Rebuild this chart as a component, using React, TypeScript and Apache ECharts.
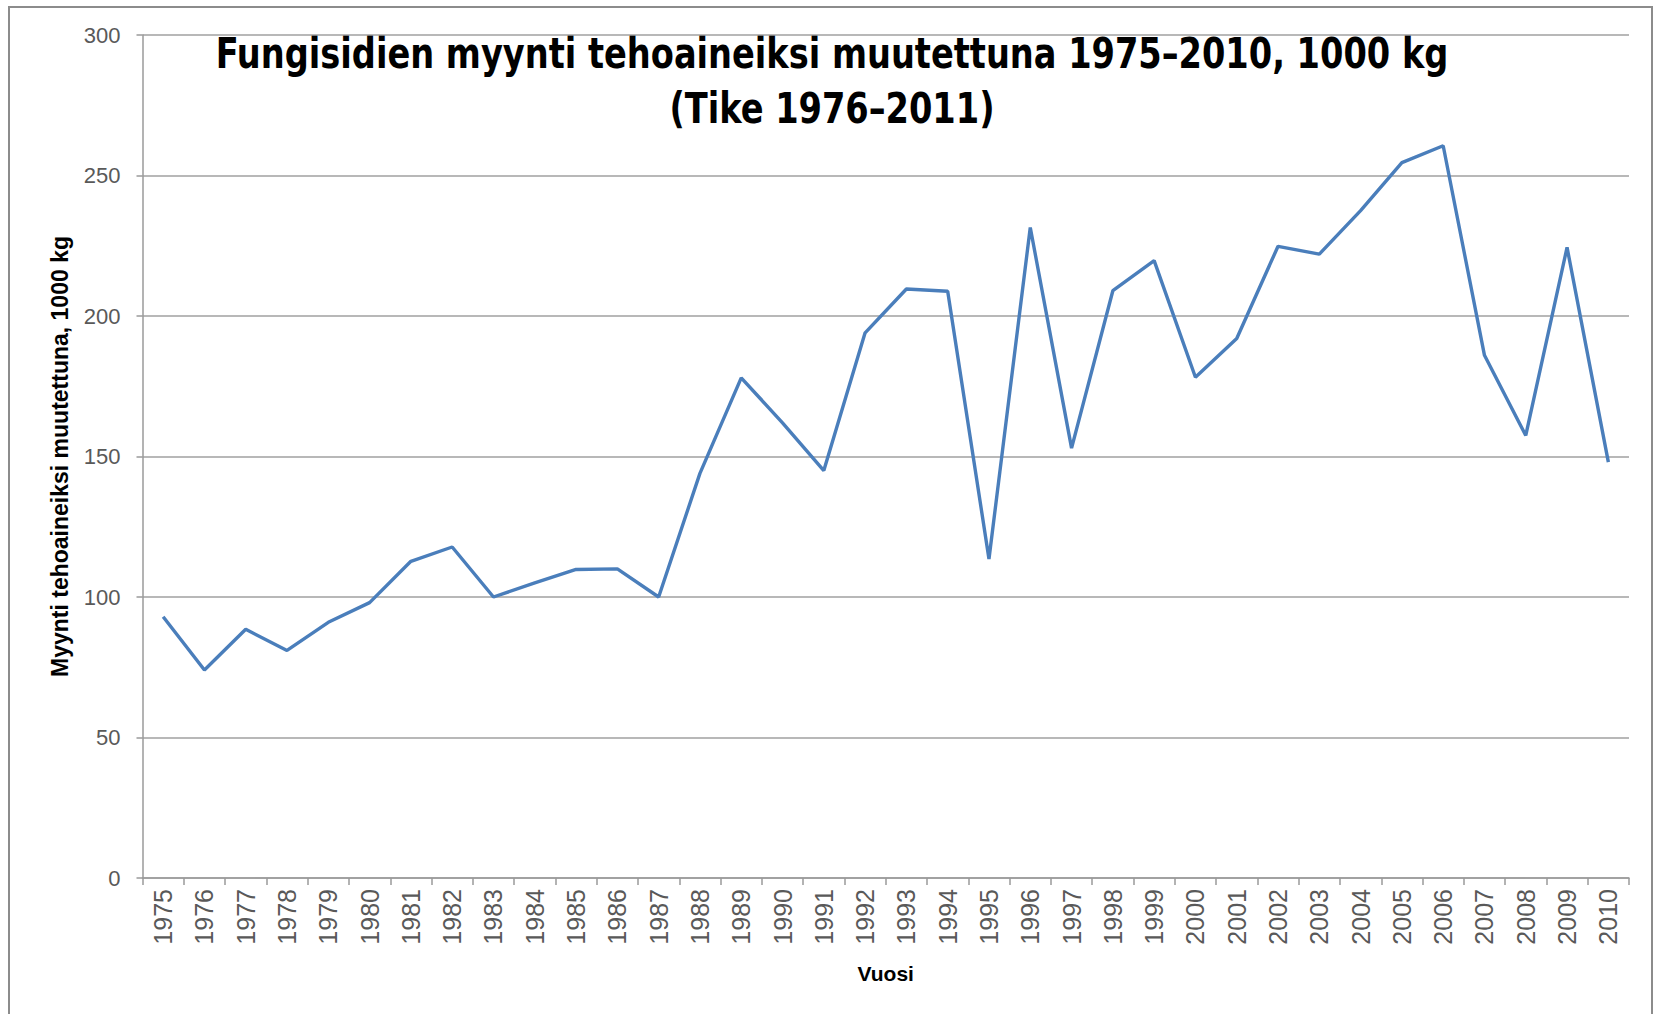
import React, { useEffect, useRef } from "react";
import * as echarts from "echarts";

const years: string[] = [
  "1975", "1976", "1977", "1978", "1979", "1980", "1981", "1982", "1983", "1984",
  "1985", "1986", "1987", "1988", "1989", "1990", "1991", "1992", "1993", "1994",
  "1995", "1996", "1997", "1998", "1999", "2000", "2001", "2002", "2003", "2004",
  "2005", "2006", "2007", "2008", "2009", "2010",
];

const sales: number[] = [
  93, 74, 88.5, 81, 91, 98, 112.7, 117.8, 100, 105,
  109.8, 110, 100, 144, 178, 162, 145, 194, 209.6, 208.8,
  113.5, 231.5, 153, 209, 219.7, 178.2, 192, 224.8, 222, 237.5,
  254.6, 260.6, 186, 157.5, 224.4, 148,
];

const titleLines: string[] = [
  "Fungisidien myynti tehoaineiksi muutettuna 1975–2010, 1000 kg",
  "(Tike 1976–2011)",
];
const yAxisName = "Myynti tehoaineiksi muutettuna, 1000 kg";
const xAxisName = "Vuosi";
const yMin = 0;
const yMax = 300;
const yStep = 50;

const NARROW = '"Liberation Sans Narrow", "DejaVu Sans Condensed", "Liberation Sans", sans-serif';
const SANS = '"Liberation Sans", Arial, sans-serif';

export default function App() {
  const ref = useRef<HTMLDivElement>(null);

  useEffect(() => {
    if (!ref.current) return;
    const chart = echarts.init(ref.current, null, { renderer: "svg" });
    const titleStyle = {
      fontFamily: NARROW,
      fontWeight: "bold",
      fontSize: 42,
      lineHeight: 55,
      fill: "#000000",
      align: "center",
      verticalAlign: "top",
    };
    chart.setOption({
      animation: false,
      backgroundColor: "#ffffff",
      graphic: [
        {
          type: "rect",
          shape: { x: 9, y: 7, width: 1643, height: 1030 },
          style: { fill: "none", stroke: "#8c8c8c", lineWidth: 2 },
          silent: true,
          z: -1,
        },
        {
          type: "text",
          x: 832,
          y: 25.5,
          scaleX: 0.89,
          silent: true,
          style: { ...titleStyle, text: titleLines[0] },
        },
        {
          type: "text",
          x: 832,
          y: 80.5,
          scaleX: 0.89,
          silent: true,
          style: { ...titleStyle, text: titleLines[1] },
        },
      ],
      grid: {
        left: 142.5,
        right: 26,
        top: 35,
        bottom: 136,
      },
      xAxis: {
        type: "category",
        data: years,
        boundaryGap: true,
        name: xAxisName,
        nameLocation: "middle",
        nameGap: 85,
        nameTextStyle: {
          fontFamily: SANS,
          fontWeight: "bold",
          fontSize: 21,
          color: "#000000",
        },
        axisLine: { show: true, lineStyle: { color: "#9a9a9a", width: 1.5 } },
        axisTick: {
          show: true,
          alignWithLabel: false,
          length: 7,
          lineStyle: { color: "#9a9a9a", width: 1.5 },
        },
        axisLabel: {
          rotate: 90,
          interval: 0,
          margin: 11,
          fontFamily: SANS,
          fontSize: 25,
          color: "#595959",
        },
        splitLine: { show: false },
      },
      yAxis: {
        type: "value",
        min: yMin,
        max: yMax,
        interval: yStep,
        name: yAxisName,
        nameLocation: "middle",
        nameGap: 71,
        nameRotate: 90,
        nameTextStyle: {
          fontFamily: SANS,
          fontWeight: "bold",
          fontSize: 23,
          color: "#000000",
        },
        axisLine: { show: true, lineStyle: { color: "#9a9a9a", width: 1.5 } },
        axisTick: {
          show: true,
          length: 6,
          lineStyle: { color: "#9a9a9a", width: 1.5 },
        },
        axisLabel: {
          margin: 22,
          fontFamily: SANS,
          fontSize: 22,
          color: "#595959",
        },
        splitLine: { show: true, lineStyle: { color: "#a0a0a0", width: 1.5 } },
      },
      series: [
        {
          type: "line",
          data: sales,
          symbol: "none",
          lineStyle: { color: "#4a7ebb", width: 3.4 },
          itemStyle: { color: "#4a7ebb" },
        },
      ],
    });
    return () => chart.dispose();
  }, []);

  return (
    <div
      ref={ref}
      style={{ position: "absolute", left: 0, top: 0, width: 1655, height: 1014 }}
    />
  );
}
